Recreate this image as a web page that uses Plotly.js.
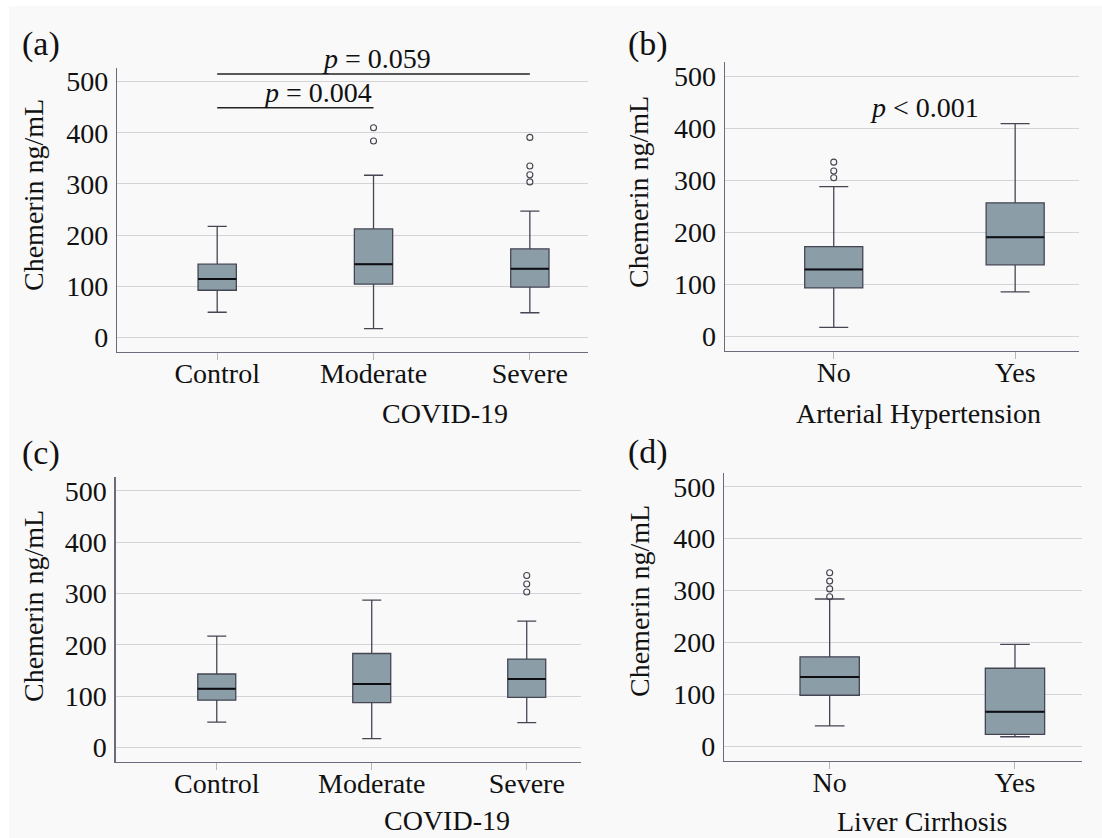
<!DOCTYPE html>
<html><head><meta charset="utf-8">
<script src="https://cdn.plot.ly/plotly-3.0.1.min.js"></script>
<style>html,body{margin:0;padding:0;background:#fff}#chart{width:1102px;height:838px}</style>
</head><body><div id="chart"></div>
<script>
// ---------- data ----------
const covidGroups = ['Control', 'Moderate', 'Severe'];
const yesNoGroups = ['No', 'Yes'];
const yTicks = [0, 100, 200, 300, 400, 500];

// (a) COVID-19
const aQ1 = [92, 104, 98];
const aMedian = [114, 143, 134];
const aQ3 = [143, 212, 173];
const aLower = [49, 17, 48];
const aUpper = [217, 317, 247];
const aOutlierGroup = ['Moderate', 'Moderate', 'Severe', 'Severe', 'Severe', 'Severe'];
const aOutlierValue = [410, 384, 391, 335, 318, 304];
const aPairs = [['Control', 'Moderate'], ['Control', 'Severe']];
const aPLevel = [449, 515];
const aPText = ['<i>p</i> = 0.004', '<i>p</i> = 0.059'];

// (b) Arterial Hypertension
const bQ1 = [93.5, 138];
const bMedian = [129, 191];
const bQ3 = [173, 257];
const bLower = [18, 86];
const bUpper = [288, 409];
const bOutlierGroup = ['No', 'No', 'No'];
const bOutlierValue = [335, 318, 305];
const bPText = '<i>p</i> < 0.001';

// (c) COVID-19
const cQ1 = [92, 87, 97.5];
const cMedian = [114, 123.5, 133];
const cQ3 = [143, 183, 172];
const cLower = [49, 17, 48];
const cUpper = [217, 287, 246];
const cOutlierGroup = ['Severe', 'Severe', 'Severe'];
const cOutlierValue = [335, 318.5, 303];

// (d) Liver Cirrhosis
const dQ1 = [98, 22.5];
const dMedian = [133, 66];
const dQ3 = [172, 150];
const dLower = [39, 18];
const dUpper = [283.5, 196];
const dOutlierGroup = ['No', 'No', 'No', 'No'];
const dOutlierValue = [334, 318, 303, 288];

// ---------- style ----------
const FONT = '"Liberation Serif", "Times New Roman", Times, serif';
const W = 1102, H = 838;
const boxFill = '#8b9ea8';
const boxLine = '#454553';
const txt = '#111111';

function boxTrace(cats, q1, med, q3, lo, hi, xa, ya, w) {
  return {
    type: 'box', x: cats, q1: q1, median: med, q3: q3,
    lowerfence: lo, upperfence: hi, boxpoints: false,
    width: w, whiskerwidth: 0.5,
    fillcolor: boxFill, line: {color: boxLine, width: 1.3},
    xaxis: xa, yaxis: ya, showlegend: false, hoverinfo: 'skip'
  };
}
// median drawn again in black (collapsed box at the median value)
function medianTrace(cats, med, xa, ya, w) {
  return {
    type: 'box', x: cats, q1: med, median: med, q3: med,
    lowerfence: med, upperfence: med, boxpoints: false,
    width: w, whiskerwidth: 0,
    fillcolor: 'rgba(0,0,0,0)', line: {color: '#0d0d12', width: 2},
    xaxis: xa, yaxis: ya, showlegend: false, hoverinfo: 'skip'
  };
}
function outTrace(xs, ys, xa, ya) {
  return {
    type: 'scatter', mode: 'markers', x: xs, y: ys,
    marker: {symbol: 'circle-open', size: 6, color: '#444450', line: {width: 1.1}},
    xaxis: xa, yaxis: ya, showlegend: false, hoverinfo: 'skip'
  };
}

const data = [
  boxTrace(covidGroups, aQ1, aMedian, aQ3, aLower, aUpper, 'x', 'y', 0.245),
  medianTrace(covidGroups, aMedian, 'x', 'y', 0.245),
  outTrace(aOutlierGroup, aOutlierValue, 'x', 'y'),
  boxTrace(yesNoGroups, bQ1, bMedian, bQ3, bLower, bUpper, 'x2', 'y2', 0.32),
  medianTrace(yesNoGroups, bMedian, 'x2', 'y2', 0.32),
  outTrace(bOutlierGroup, bOutlierValue, 'x2', 'y2'),
  boxTrace(covidGroups, cQ1, cMedian, cQ3, cLower, cUpper, 'x3', 'y3', 0.245),
  medianTrace(covidGroups, cMedian, 'x3', 'y3', 0.245),
  outTrace(cOutlierGroup, cOutlierValue, 'x3', 'y3'),
  boxTrace(yesNoGroups, dQ1, dMedian, dQ3, dLower, dUpper, 'x4', 'y4', 0.32),
  medianTrace(yesNoGroups, dMedian, 'x4', 'y4', 0.32),
  outTrace(dOutlierGroup, dOutlierValue, 'x4', 'y4')
];

function xAxis(dom, rng, anchor) {
  return {
    domain: dom, range: rng, anchor: anchor, type: 'category',
    showline: true, linecolor: '#6c6a7c', linewidth: 1.3,
    ticks: 'outside', ticklen: 7, tickcolor: '#b5b5bb', tickwidth: 1,
    ticklabelstandoff: -11,
    showgrid: false, zeroline: false,
    tickfont: {family: FONT, size: 28, color: txt}, fixedrange: true
  };
}
function yAxis(dom, rng, anchor) {
  return {
    domain: dom, range: rng, anchor: anchor,
    showline: true, linecolor: '#6c6a7c', linewidth: 1.3,
    ticks: '', tickvals: yTicks, ticktext: yTicks.map(String),
    showgrid: true, gridcolor: '#d3d3d8', gridwidth: 1, zeroline: false,
    ticklabelstandoff: 2,
    tickfont: {family: FONT, size: 28, color: txt}, fixedrange: true
  };
}

function paperText(text, px, py, size, angle) {
  return {
    text: text, xref: 'paper', yref: 'paper', x: px / W, y: 1 - py / H,
    xanchor: 'center', yanchor: 'middle', showarrow: false,
    textangle: angle || 0, font: {family: FONT, size: size, color: txt}
  };
}

const annotations = [
  paperText('(a)', 41, 44, 34), paperText('(b)', 648, 44, 34),
  paperText('(c)', 41, 453, 34), paperText('(d)', 648, 452, 34),
  paperText('Chemerin ng/mL', 33, 195, 28, -90),
  paperText('Chemerin ng/mL', 639, 192, 28, -90),
  paperText('Chemerin ng/mL', 33, 606, 28, -90),
  paperText('Chemerin ng/mL', 639, 601, 28, -90),
  paperText('COVID-19', 445, 414, 28),
  paperText('Arterial Hypertension', 918, 414, 28),
  paperText('COVID-19', 447, 820, 28),
  paperText('Liver Cirrhosis', 922, 821, 28)
];

const shapes = [
  {type: 'rect', xref: 'paper', yref: 'paper', x0: 9 / W, x1: 1, y0: 0, y1: 1 - 6 / H,
   fillcolor: '#f9f9fa', line: {width: 0}, layer: 'below'}
];
aPairs.forEach((pr, i) => {
  const i0 = covidGroups.indexOf(pr[0]), i1 = covidGroups.indexOf(pr[1]);
  shapes.push({type: 'line', xref: 'x', yref: 'y', x0: i0, x1: i1, y0: aPLevel[i], y1: aPLevel[i],
               line: {color: '#222', width: 1.6}});
  annotations.push({
    text: aPText[i], xref: 'x', yref: 'y',
    x: i === 0 ? (i0 + i1) / 2 + 0.14 : (i0 + i1) / 2 + 0.02,
    y: aPLevel[i], yanchor: 'bottom', xanchor: 'center', yshift: -2,
    showarrow: false, font: {family: FONT, size: 28, color: txt}
  });
});
annotations.push({
  text: bPText, xref: 'x2', yref: 'y2', x: 0.5, y: 439,
  xanchor: 'center', yanchor: 'middle', showarrow: false,
  font: {family: FONT, size: 28, color: txt}
});

const layout = {
  width: W, height: H,
  margin: {l: 0, r: 0, t: 0, b: 0},
  paper_bgcolor: '#ffffff', plot_bgcolor: 'rgba(0,0,0,0)',
  showlegend: false, boxmode: 'overlay',
  xaxis: xAxis([0.1063, 0.5333], [-0.64, 2.37], 'y'),
  yaxis: yAxis([0.5803, 0.9185], [-28.2, 526.2], 'x'),
  xaxis2: xAxis([0.6578, 0.9793], [-0.60, 1.353], 'y2'),
  yaxis2: yAxis([0.5815, 0.9264], [-26.9, 527.8], 'x2'),
  xaxis3: xAxis([0.1050, 0.5272], [-0.652, 2.35], 'y3'),
  yaxis3: yAxis([0.0911, 0.4304], [-28, 526.6], 'x3'),
  xaxis4: xAxis([0.6572, 0.9819], [-0.569, 1.362], 'y4'),
  yaxis4: yAxis([0.0922, 0.4359], [-28.3, 527], 'x4'),
  annotations: annotations,
  shapes: shapes
};

Plotly.newPlot('chart', data, layout, {displayModeBar: false, staticPlot: true});
</script>
</body></html>
